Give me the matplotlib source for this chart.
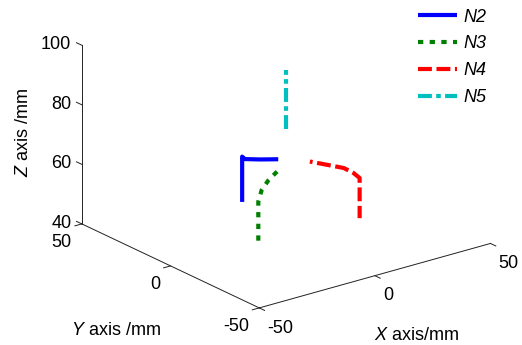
import numpy as np
import matplotlib
matplotlib.use("Agg")
import matplotlib.pyplot as plt

# ---------------- data ----------------
n2_x = [6.4, 1.4, -2.6, -3.3, -3.3]
n2_y = [12.8, 16.4, 19.9, 20.5, 20.5]
n2_z = [60.0, 60.0, 60.0, 60.8, 45.6]

n3_x = [-1.0, -8.1, -15.7, -23.4, -23.4]
n3_y = [3.8, -0.7, -6.7, -14.8, -14.8]
n3_z = [60.0, 60.0, 60.0, 60.0, 45.5]

n4_x = [13.7, 19.2, 19.5, 19.5, 19.5]
n4_y = [4.5, -7.5, -12.5, -16.0, -16.0]
n4_z = [60.0, 60.0, 59.7, 59.0, 45.5]

n5_x = [0.0, 0.0]
n5_y = [0.0, 0.0]
n5_z = [75.0, 95.0]

series_labels = ["N2", "N3", "N4", "N5"]
x_ticks = [-50, 0, 50]
y_ticks = [-50, 0, 50]
z_ticks = [40, 60, 80, 100]
x_label = r"$\mathit{X}$ axis/mm"
y_label = r"$\mathit{Y}$ axis /mm"
z_label = r"$\mathit{Z}$ axis /mm"

# ---------------- style ----------------
W, H, DPI = 522, 345, 100
plt.rcParams.update({
    "font.family": ["Liberation Sans", "DejaVu Sans"],
    "font.size": 13,
    "mathtext.fontset": "custom",
    "mathtext.rm": "Liberation Sans",
    "mathtext.it": "Liberation Sans:italic",
    "lines.scale_dashes": False,
})

fig = plt.figure(figsize=(W / DPI, H / DPI), dpi=DPI)
ax = fig.add_axes([0.2, 0.1, 0.6, 0.8], projection="3d", proj_type="ortho")
ax.view_init(elev=21.3, azim=-127.5)
ax.set_box_aspect((1, 1, 0.658))
ax.set_axis_off()

series = [
    (n2_x, n2_y, n2_z, (0, 0, 1), "-"),
    (n3_x, n3_y, n3_z, (0, 0.5, 0), (0, (3.8, 4.6))),
    (n4_x, n4_y, n4_z, (1, 0, 0), (8, (10, 3.3))),
    (n5_x, n5_y, n5_z, (0, 0.75, 0.75), (0, (10, 3.1, 3.3, 3.1))),
]
legend_styles = ["-", (0, (3.8, 4.6)), (0, (10, 3.3)), (0, (10, 3.1, 3.3, 3.1))]
handles = []
for (xs, ys, zs, col, ls), lab in zip(series, series_labels):
    ln, = ax.plot(xs, ys, zs, color=col, lw=3.0, linestyle=ls, label=lab,
                  solid_capstyle="butt", dash_capstyle="butt", zorder=5)
    handles.append(ln)

xlo, xhi = x_ticks[0], x_ticks[-1]
ylo, yhi = y_ticks[0], y_ticks[-1]
zlo, zhi = z_ticks[0], z_ticks[-1]
axkw = dict(color="#222222", lw=0.7, zorder=1)
ax.plot([xlo, xhi], [ylo, ylo], [zlo, zlo], **axkw)
ax.plot([xlo, xlo], [ylo, yhi], [zlo, zlo], **axkw)
ax.plot([xlo, xlo], [yhi, yhi], [zlo, zhi], **axkw)
tl = 3.0
for t in x_ticks:
    ax.plot([t, t], [ylo, ylo - tl], [zlo, zlo], **axkw)
for t in y_ticks:
    ax.plot([xlo, xlo - tl], [t, t], [zlo, zlo], **axkw)
for t in z_ticks:
    ax.plot([xlo, xlo], [yhi, yhi + tl], [t, t], **axkw)
ax.set_xlim(xlo, xhi)
ax.set_ylim(ylo, yhi)
ax.set_zlim(zlo, zhi)

# ---------- calibrate axes placement so the box corners land where wanted ----------
fig.canvas.draw()


def project(pts):
    M = ax.get_proj()
    P = np.column_stack([np.asarray(pts, float), np.ones(len(pts))])
    v = P @ M.T
    xy = v[:, :2] / v[:, 3:4]
    return ax.transData.transform(xy)


corners = [(xlo, ylo, zlo), (xhi, ylo, zlo), (xlo, yhi, zlo), (xlo, yhi, zhi)]
targets_px = np.array([(260, 308), (490, 244), (81.7, 223.5), (81.7, 45)])
targets = np.column_stack([targets_px[:, 0], H - targets_px[:, 1]])
bb = ax.get_position().transformed(fig.transFigure)
L0 = bb.width
c0 = np.array([bb.x0 + bb.width / 2, bb.y0 + bb.height / 2])
g = (project(corners) - c0) / L0
A, b = [], []
for gi, ti in zip(g, targets):
    A.append([1, 0, gi[0]]); b.append(ti[0])
    A.append([0, 1, gi[1]]); b.append(ti[1])
cx, cy, L = np.linalg.lstsq(np.array(A), np.array(b), rcond=None)[0]
ax.set_position([(cx - L / 2) / W, (cy - L / 2) / H, L / W, L / H])
fig.canvas.draw()


def tick_label(pt3, s, dx, dy, ha):
    # place a label at the projected 3D anchor, shifted dx right / dy down (pixels)
    px, py = project([pt3])[0]
    fig.text((px + dx) / W, (py - dy) / H, s, ha=ha, va="baseline")


for t in z_ticks:
    tick_label((xlo, yhi, t), f"{t}", -10.5, 4, "right")
for t in y_ticks:
    tick_label((xlo, t, zlo), f"{t}", -10.5, 23, "right")
for t in x_ticks:
    tick_label((t, ylo, zlo), f"{t}", 8.3, 24.7, "left")

fig.text(416.5 / W, 1 - 340.3 / H, x_label, ha="center", va="baseline")
fig.text(116 / W, 1 - 334.7 / H, y_label, ha="center", va="baseline")
fig.text(28 / W, 1 - 132 / H, z_label, ha="center", va="baseline",
         rotation=90, rotation_mode="anchor")

leg = ax.legend(handles=handles, loc="upper left", bbox_to_anchor=(417.7 / W, 1 - 8.5 / H),
                bbox_transform=fig.transFigure, frameon=False, borderpad=0,
                borderaxespad=0, handlelength=2.16, handletextpad=0.35,
                labelspacing=0.55, prop=dict(family="Liberation Sans", style="italic", size=13))
for lh, ls in zip(leg.get_lines(), legend_styles):
    lh.set_linestyle(ls)

fig.savefig("out.png", dpi=DPI)
